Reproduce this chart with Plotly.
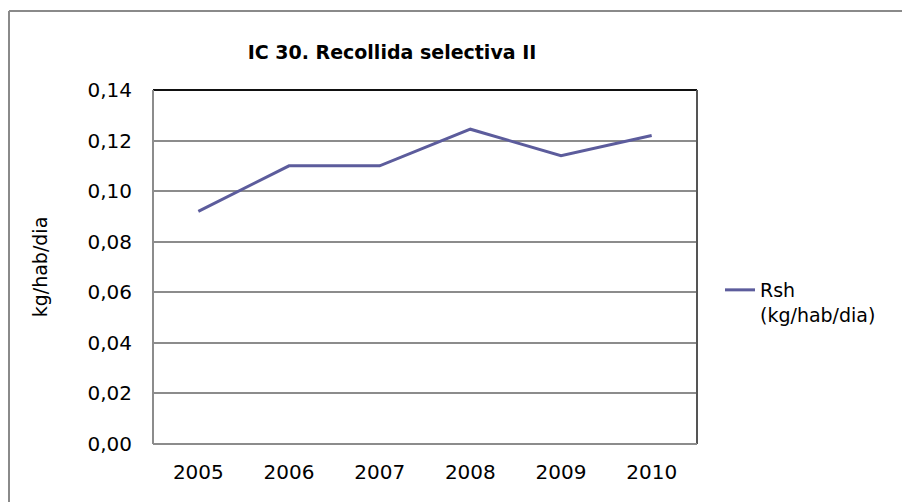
import plotly.graph_objects as go

years = ["2005", "2006", "2007", "2008", "2009", "2010"]
rsh = [0.092, 0.110, 0.110, 0.1245, 0.114, 0.122]
y_ticks = [0.00, 0.02, 0.04, 0.06, 0.08, 0.10, 0.12, 0.14]
y_tick_labels = ["0,00", "0,02", "0,04", "0,06", "0,08", "0,10", "0,12", "0,14"]

FONT = "DejaVu Sans, Verdana, sans-serif"
W, H = 910, 502
# the page body adds an 8px offset; plot area should land at page x 153-697, y 90-444
OFF = 8
L, T = 153 - OFF, 90 - OFF
R = W - (697 - OFF)
B = H - (444 - OFF)
pw, ph = W - L - R, H - T - B

fig = go.Figure()
fig.add_trace(go.Scatter(
    x=years, y=rsh, mode="lines",
    name="Rsh<br>(kg/hab/dia)",
    line=dict(color="#5c5c9c", width=3),
))

fig.update_layout(
    width=W, height=H,
    margin=dict(l=L, r=R, t=T, b=B, autoexpand=False),
    paper_bgcolor="white", plot_bgcolor="white",
    font=dict(family=FONT, color="black", size=20),
    title=dict(
        text="<b>IC 30. Recollida selectiva II</b>",
        x=(392 - OFF) / W, xanchor="center",
        y=1 - (52 - OFF) / H, yanchor="middle",
        font=dict(size=19, family=FONT),
    ),
    xaxis=dict(
        type="category", range=[-0.5, 5.5], showgrid=False, zeroline=False,
        showline=False, ticks="", tickfont=dict(size=20),
        ticklabelstandoff=14, automargin=False,
    ),
    yaxis=dict(
        range=[0, 0.14], tickvals=y_ticks, ticktext=y_tick_labels,
        showgrid=True, gridcolor="#8c8c8c", gridwidth=2,
        zeroline=False, showline=False, ticks="",
        tickfont=dict(size=20), ticklabelstandoff=20, automargin=False,
        title=dict(text="kg/hab/dia", font=dict(size=19), standoff=34),
    ),
    showlegend=True,
    legend=dict(
        x=(720 - OFF - L) / pw, xanchor="left",
        y=(H - B - (271 - OFF)) / ph, yanchor="top",
        valign="top", font=dict(size=19), bgcolor="rgba(0,0,0,0)",
        itemwidth=30,
    ),
)

def px_x(px):
    return (px - OFF - L) / pw

def px_y(py):
    return (H - B - (py - OFF)) / ph

shapes = [
    # outer chart frame (top and left, extends beyond view)
    dict(type="line", xref="paper", yref="paper", x0=px_x(9), x1=px_x(940), y0=px_y(11), y1=px_y(11),
         line=dict(color="#8a8a8a", width=2)),
    dict(type="line", xref="paper", yref="paper", x0=px_x(9), x1=px_x(9), y0=px_y(11), y1=px_y(530),
         line=dict(color="#8a8a8a", width=2)),
    # plot area borders
    dict(type="line", xref="paper", yref="paper", x0=0, x1=1, y0=1, y1=1, line=dict(color="#111111", width=2)),
    dict(type="line", xref="paper", yref="paper", x0=1, x1=1, y0=0, y1=1, line=dict(color="#555555", width=2)),
    dict(type="line", xref="paper", yref="paper", x0=0, x1=0, y0=0, y1=1, line=dict(color="#8c8c8c", width=2)),
    dict(type="line", xref="paper", yref="paper", x0=0, x1=1, y0=0, y1=0, line=dict(color="#8c8c8c", width=2)),
]
fig.update_layout(shapes=shapes)

fig.write_html("out.html")
